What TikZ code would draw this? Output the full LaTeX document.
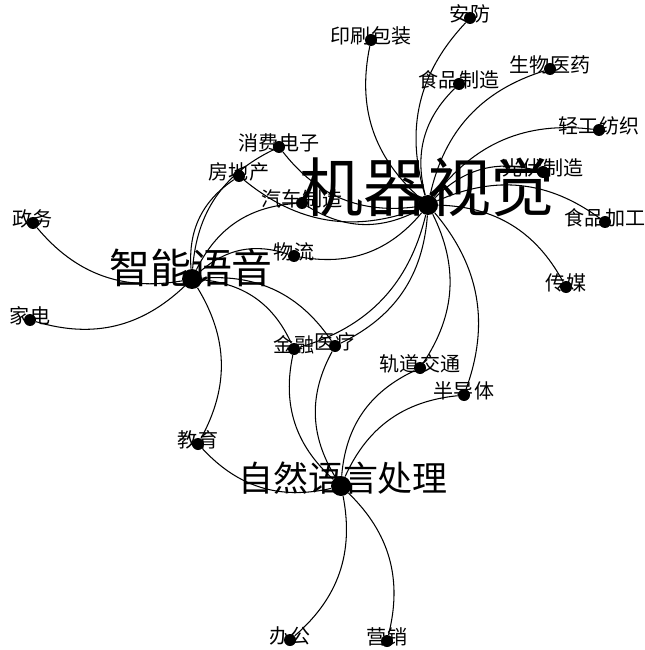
\documentclass[tikz,border=0pt]{standalone}
\usepackage{fontspec}
\usepackage{tikz}
\newfontfamily\cjk{Noto Sans CJK SC}

\begin{document}
\begin{tikzpicture}[
  leaf/.style={circle, fill=black, inner sep=0pt, minimum size=0.24cm},
  hub/.style={circle, fill=black, inner sep=0pt, minimum size=0.4cm},
  leaftext/.style={inner sep=0pt, yshift=0.08cm, font=\cjk\fontsize{11.4}{12}\selectfont},
  hubtext/.style={inner sep=0pt, font=\cjk\fontsize{#1}{#1}\selectfont},
  link/.style={line width=0.6pt, bend left=30}
]
  \useasboundingbox (0,0) rectangle (12.88,-13);

  % hub nodes
  \node[hub] (jqsj) at (8.56,-4.10) {};
  \node[hub] (znyy) at (3.84,-5.58) {};
  \node[hub] (zryy) at (6.82,-9.72) {};

  % industry nodes
  \node[leaf] (yszb) at (7.42,-0.80)  {};
  \node[leaf] (af)   at (9.40,-0.36)  {};
  \node[leaf] (spzz) at (9.18,-1.68)  {};
  \node[leaf] (swyy) at (11.00,-1.38) {};
  \node[leaf] (qgfz) at (11.98,-2.60) {};
  \node[leaf] (gfzz) at (10.86,-3.44) {};
  \node[leaf] (spjg) at (12.10,-4.44) {};
  \node[leaf] (cm)   at (11.32,-5.74) {};
  \node[leaf] (xfdz) at (5.58,-2.94)  {};
  \node[leaf] (fdc)  at (4.78,-3.52)  {};
  \node[leaf] (qczz) at (6.04,-4.06)  {};
  \node[leaf] (zw)   at (0.66,-4.46)  {};
  \node[leaf] (wl)   at (5.88,-5.12)  {};
  \node[leaf] (jd)   at (0.60,-6.40)  {};
  \node[leaf] (jr)   at (5.88,-6.98)  {};
  \node[leaf] (yl)   at (6.70,-6.92)  {};
  \node[leaf] (gdjt) at (8.40,-7.36)  {};
  \node[leaf] (bdt)  at (9.28,-7.90)  {};
  \node[leaf] (jy)   at (3.96,-8.88)  {};
  \node[leaf] (bg)   at (5.80,-12.80) {};
  \node[leaf] (yx)   at (7.74,-12.82) {};

  % labels
  \node[hubtext=36.4] (jqsj-t) at (8.54,-3.74) {机器视觉};
  \node[hubtext=23.3] (znyy-t) at (3.82,-5.36) {智能语音};
  \node[hubtext=19.9] (zryy-t) at (6.86,-9.56) {自然语言处理};
  \node[leaftext] (yszb-t) at (yszb) {印刷包装};
  \node[leaftext] (af-t)   at (af)   {安防};
  \node[leaftext] (spzz-t) at (spzz) {食品制造};
  \node[leaftext] (swyy-t) at (swyy) {生物医药};
  \node[leaftext] (qgfz-t) at (qgfz) {轻工纺织};
  \node[leaftext] (gfzz-t) at (gfzz) {光伏制造};
  \node[leaftext] (spjg-t) at (spjg) {食品加工};
  \node[leaftext] (cm-t)   at (cm)   {传媒};
  \node[leaftext] (xfdz-t) at (xfdz) {消费电子};
  \node[leaftext] (fdc-t)  at (fdc)  {房地产};
  \node[leaftext] (qczz-t) at (qczz) {汽车制造};
  \node[leaftext] (zw-t)   at (zw)   {政务};
  \node[leaftext] (wl-t)   at (wl)   {物流};
  \node[leaftext] (jd-t)   at (jd)   {家电};
  \node[leaftext] (jr-t)   at (jr)   {金融};
  \node[leaftext] (yl-t)   at (yl)   {医疗};
  \node[leaftext] (gdjt-t) at (gdjt) {轨道交通};
  \node[leaftext] (bdt-t)  at (bdt)  {半导体};
  \node[leaftext] (jy-t)   at (jy)   {教育};
  \node[leaftext] (bg-t)   at (bg)   {办公};
  \node[leaftext] (yx-t)   at (yx)   {营销};

  % 机器视觉 links
  \draw[link] (jqsj) to (yszb);
  \draw[link] (jqsj) to (af);
  \draw[link] (jqsj) to (spzz);
  \draw[link] (jqsj) to (swyy);
  \draw[link] (jqsj) to (qgfz);
  \draw[link] (jqsj) to (gfzz);
  \draw[link] (jqsj) to (spjg);
  \draw[link] (jqsj) to (cm);
  \draw[link] (jqsj) to (xfdz);
  \draw[link] (jqsj) to (fdc);
  \draw[link] (jqsj) to (qczz);
  \draw[link] (jqsj) to (wl);
  \draw[link] (jqsj) to (yl);
  \draw[link] (jqsj) to (jr);
  \draw[link] (jqsj) to (gdjt);
  \draw[link] (jqsj) to (bdt);

  % 智能语音 links
  \draw[link] (znyy) to (zw);
  \draw[link] (znyy) to (jd);
  \draw[link] (znyy) to (fdc);
  \draw[link] (znyy) to (xfdz);
  \draw[link] (znyy) to (qczz);
  \draw[link] (znyy) to (wl);
  \draw[link] (znyy) to (jr);
  \draw[link] (znyy) to (yl);
  \draw[link] (znyy) to (jy);

  % 自然语言处理 links
  \draw[link] (zryy) to (jy);
  \draw[link] (zryy) to (jr);
  \draw[link] (zryy) to (yl);
  \draw[link] (zryy) to (gdjt);
  \draw[link] (zryy) to (bdt);
  \draw[link] (zryy) to (bg);
  \draw[link] (zryy) to (yx);
\end{tikzpicture}
\end{document}
